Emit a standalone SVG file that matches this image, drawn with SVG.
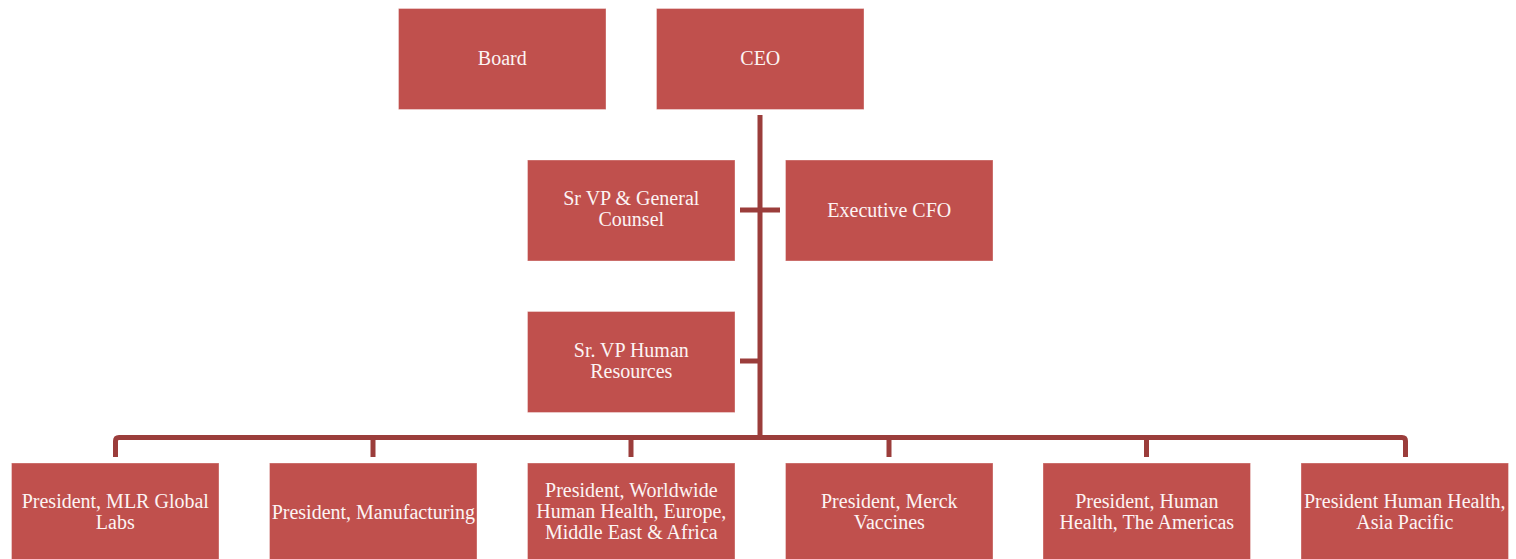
<svg xmlns="http://www.w3.org/2000/svg" width="1516" height="559" viewBox="0 0 1516 559">
  <style>
    .box { fill: #C0504D; stroke: #FFFFFF; stroke-opacity: 0.35; stroke-width: 1; }
    .lbl { font-size: 20px; fill: #FCF4F4; text-anchor: middle; }
    .wire { fill: none; stroke: #9B3D3B; stroke-width: 5; stroke-linejoin: round; }
  </style>

  <!-- reporting lines -->
  <g id="connectors">
    <path class="wire" d="M760 115 V440"/>
    <path class="wire" d="M740 210 H780"/>
    <path class="wire" d="M740 361 H760"/>
    <path class="wire" d="M115.5 457 V441 Q115.5 437.5 119 437.5 H1402 Q1405.5 437.5 1405.5 441 V457"/>
    <path class="wire" d="M373 437.5 V457"/>
    <path class="wire" d="M631 437.5 V457"/>
    <path class="wire" d="M889 437.5 V457"/>
    <path class="wire" d="M1146.5 437.5 V457"/>
  </g>

  <g font-family="Liberation Serif, serif">
  <!-- top row -->
  <g id="board">
    <rect class="box" x="398.5" y="8.5" width="207.5" height="101"/>
    <text class="lbl" x="502.3" y="65">Board</text>
  </g>
  <g id="ceo">
    <rect class="box" x="656.5" y="8.5" width="207.5" height="101"/>
    <text class="lbl" x="760.3" y="65">CEO</text>
  </g>

  <!-- staff functions -->
  <g id="general-counsel">
    <rect class="box" x="527.5" y="160" width="207.5" height="101"/>
    <text class="lbl" x="631.3" y="205">Sr VP &amp; General</text>
    <text class="lbl" x="631.3" y="226">Counsel</text>
  </g>
  <g id="cfo">
    <rect class="box" x="785.5" y="160" width="207.5" height="101"/>
    <text class="lbl" x="889.3" y="217">Executive CFO</text>
  </g>
  <g id="human-resources">
    <rect class="box" x="527.5" y="311.5" width="207.5" height="101"/>
    <text class="lbl" x="631.3" y="356.5">Sr. VP Human</text>
    <text class="lbl" x="631.3" y="377.5">Resources</text>
  </g>

  <!-- divisions -->
  <g id="mlr-labs">
    <rect class="box" x="11.5" y="463" width="207.5" height="101"/>
    <text class="lbl" x="115.3" y="508">President, MLR Global</text>
    <text class="lbl" x="115.3" y="529">Labs</text>
  </g>
  <g id="manufacturing">
    <rect class="box" x="269.5" y="463" width="207.5" height="101"/>
    <text class="lbl" x="373.3" y="519">President, Manufacturing</text>
  </g>
  <g id="worldwide-emea">
    <rect class="box" x="527.5" y="463" width="207.5" height="101"/>
    <text class="lbl" x="631.3" y="497">President, Worldwide</text>
    <text class="lbl" x="631.3" y="518">Human Health, Europe,</text>
    <text class="lbl" x="631.3" y="539">Middle East &amp; Africa</text>
  </g>
  <g id="vaccines">
    <rect class="box" x="785.5" y="463" width="207.5" height="101"/>
    <text class="lbl" x="889.3" y="508">President, Merck</text>
    <text class="lbl" x="889.3" y="529">Vaccines</text>
  </g>
  <g id="americas">
    <rect class="box" x="1043" y="463" width="207.5" height="101"/>
    <text class="lbl" x="1146.8" y="508">President, Human</text>
    <text class="lbl" x="1146.8" y="529">Health, The Americas</text>
  </g>
  <g id="asia-pacific">
    <rect class="box" x="1301" y="463" width="207.5" height="101"/>
    <text class="lbl" x="1404.8" y="508">President Human Health,</text>
    <text class="lbl" x="1404.8" y="529">Asia Pacific</text>
  </g>
  </g>
</svg>
